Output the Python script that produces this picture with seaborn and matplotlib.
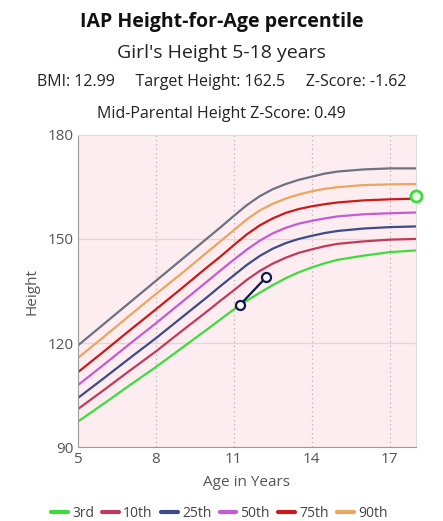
import matplotlib
matplotlib.use("Agg")
import matplotlib.pyplot as plt
import seaborn as sns
import pandas as pd
from matplotlib.lines import Line2D

# IAP girls height-for-age reference (half-years around the growth spurt)
ages = [5, 6, 7, 8, 9, 10, 10.5, 11, 11.5, 12, 12.5, 13, 13.5, 14, 14.5, 15, 16, 17, 18]
p3 = [97.4, 102.6, 107.9, 113.1, 118.6, 124.1, 126.9, 129.7, 132.2, 134.5, 136.7, 138.7, 140.4, 141.8, 143.0, 144.0, 145.2, 146.2, 146.7]
p10 = [101.0, 106.5, 112.1, 117.6, 123.5, 129.3, 132.3, 135.2, 138.2, 140.8, 142.9, 144.6, 146.0, 147.0, 147.9, 148.6, 149.3, 149.8, 150.0]
p25 = [104.2, 109.9, 115.7, 121.4, 127.4, 133.4, 136.5, 139.5, 142.5, 145.1, 147.2, 148.8, 150.0, 150.9, 151.7, 152.3, 153.0, 153.4, 153.6]
p50 = [107.9, 113.8, 119.8, 125.7, 131.8, 137.9, 141.0, 144.0, 146.9, 149.5, 151.6, 153.2, 154.4, 155.2, 155.9, 156.5, 157.1, 157.4, 157.6]
p75 = [111.6, 117.6, 123.7, 129.7, 135.8, 142.0, 145.0, 148.2, 151.3, 153.9, 155.9, 157.5, 158.6, 159.4, 160.0, 160.5, 161.1, 161.4, 161.6]
p90 = [115.7, 121.8, 128.0, 134.1, 140.1, 146.3, 149.4, 152.5, 155.6, 158.2, 160.1, 161.6, 162.8, 163.7, 164.4, 164.9, 165.5, 165.7, 165.8]
p97 = [119.3, 125.5, 131.7, 137.9, 144.1, 150.3, 153.4, 156.6, 159.7, 162.3, 164.3, 165.8, 167.0, 167.9, 168.8, 169.4, 170.0, 170.3, 170.3]

pct_labels = ["3rd", "10th", "25th", "50th", "75th", "90th"]
pct_colors = ["#3ddc3d", "#c03a5e", "#3d4a8c", "#c45ad8", "#cc1a1a", "#eba55e"]

# child measurements
child_age = [11.25, 12.25]
child_height = [131.1, 139.0]
target_age = [18]
target_height = [162.5]

sns.set_style("white")
plt.rcParams["font.family"] = ["Open Sans", "DejaVu Sans"]

rows = []
for lab, vals in zip(pct_labels, [p3, p10, p25, p50, p75, p90]):
    for a, h in zip(ages, vals):
        rows.append({"age": a, "height": h, "pct": lab})
df = pd.DataFrame(rows)

fig = plt.figure(figsize=(4.43, 5.21), dpi=100)
ax = fig.add_axes([0.1754, 0.1411, 0.763, 0.6004])
ax.set_facecolor("#fdedf0")

sns.lineplot(x=ages, y=p97, color="#6b7280", linewidth=1.6, ax=ax)
sns.lineplot(data=df, x="age", y="height", hue="pct", hue_order=pct_labels,
             palette=pct_colors, linewidth=1.6, legend=False, ax=ax)
sns.lineplot(x=child_age, y=child_height, color="#0e1a4a", linewidth=1.6,
             marker="o", markersize=6.5, markerfacecolor="white",
             markeredgecolor="#0e1a4a", markeredgewidth=1.6, ax=ax)
ax.plot(target_age, target_height, "o", color="#3ddc3d", markersize=8,
        markerfacecolor="#f0fbf0", markeredgewidth=2, clip_on=False, zorder=5)

ax.set_xlim(5, 18)
ax.set_ylim(90, 180)
ax.set_xticks([5, 8, 11, 14, 17])
ax.set_yticks([90, 120, 150, 180])
for x in [8, 11, 14, 17]:
    ax.axvline(x, color="#b8b0b2", linestyle=(0, (1, 2.5)), linewidth=0.9, zorder=0)
for y in [120, 150]:
    ax.axhline(y, color="#e6d4d8", linewidth=0.9, zorder=0)

for s in ["left", "bottom"]:
    ax.spines[s].set_color("#9a9a9a")
for s in ["top", "right"]:
    ax.spines[s].set_color("#dcdcdc")
ax.tick_params(axis="both", length=0, labelsize=11, labelcolor="#555555", pad=3)
ax.set_xlabel("Age in Years", fontsize=11, color="#555555", labelpad=6)
ax.set_ylabel("Height", fontsize=11, color="#555555", labelpad=6)

fig.text(0.5, 0.957, "IAP Height-for-Age percentile", ha="center", va="center",
         fontsize=14, fontweight="bold", color="#111111")
fig.text(0.5, 0.899, "Girl's Height 5-18 years", ha="center", va="center",
         fontsize=14, color="#222222")
fig.text(0.5, 0.842, "BMI: 12.99     Target Height: 162.5     Z-Score: -1.62",
         ha="center", va="center", fontsize=11.5, color="#222222")
fig.text(0.5, 0.781, "Mid-Parental Height Z-Score: 0.49", ha="center", va="center",
         fontsize=11.5, color="#222222")

handles = [Line2D([0], [0], color=c, linewidth=3) for c in pct_colors]
fig.legend(handles, pct_labels, loc="center", bbox_to_anchor=(0.495, 0.014),
           ncol=6, frameon=False, fontsize=10, handlelength=1.2, handletextpad=0.3,
           columnspacing=0.6, labelcolor="#444444")

fig.savefig("out.png", dpi=100)
